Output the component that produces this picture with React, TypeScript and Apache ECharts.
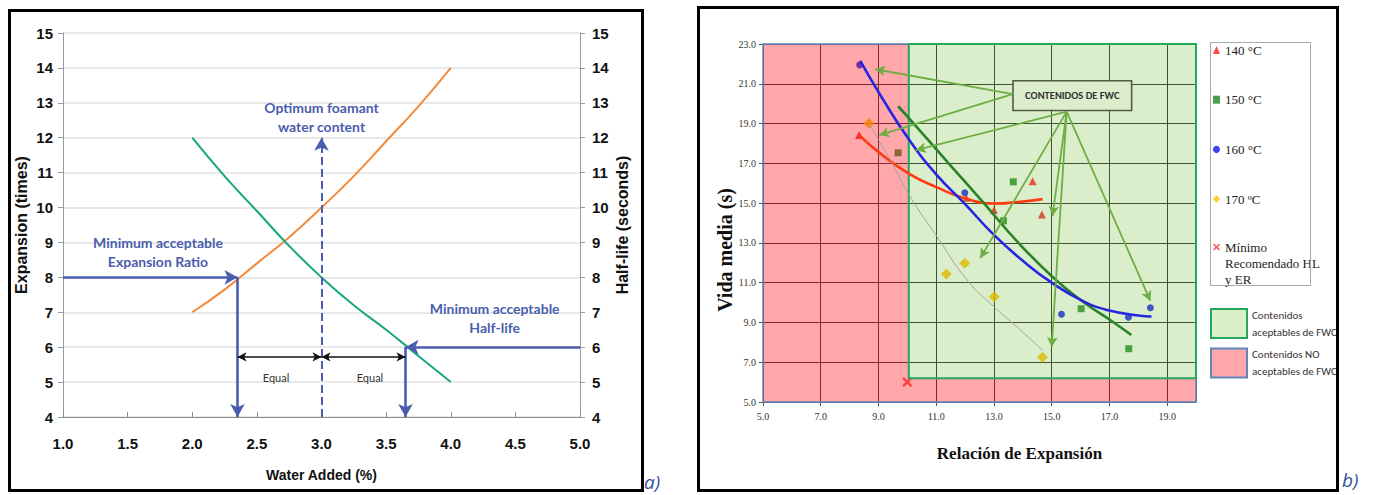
import { useEffect, useRef } from "react";
import * as echarts from "echarts";

// ---------- Panel a): foam expansion and half-life vs. water added ----------
const waterAdded = [2.0, 2.25, 2.5, 2.75, 3.0, 3.25, 3.5, 3.75, 4.0];
const expansionTimes = [7.0, 7.65, 8.4, 9.15, 10.0, 10.9, 11.9, 12.9, 14.0];
const halfLifeSeconds = [12.0, 10.9, 9.9, 8.9, 8.0, 7.2, 6.5, 5.75, 5.0];

const minExpansionRatio = 8;
const minHalfLife = 6;
const waterAtMinExpansion = 2.35;
const waterOptimum = 3.0;
const optimumArrowTop = 12;
const waterAtMinHalfLife = 3.65;
const equalBracketLevel = 5.72;

// ---------- Panel b): half-life vs. expansion ratio by temperature ----------
const pts140: number[][] = [[8.33, 18.42], [12.04, 15.27], [13.0, 14.65], [14.34, 16.1], [14.66, 14.43]];
const pts150: number[][] = [[9.68, 17.53], [13.33, 14.11], [13.67, 16.07], [16.02, 9.69], [17.67, 7.68]];
const pts160: number[][] = [[8.35, 21.95], [11.99, 15.52], [15.34, 9.41], [17.66, 9.26], [18.42, 9.74]];
const pts170: number[][] = [[8.67, 19.0], [11.35, 11.43], [11.99, 11.97], [13.01, 10.29], [14.68, 7.25]];
const minRecommended: number[][] = [[10.0, 6.0]];

const fit140: number[][] = [[8.33, 18.42], [9.06, 17.5], [10.08, 16.46], [11.03, 15.79], [11.99, 15.24], [13.0, 14.98], [13.92, 15.07], [14.68, 15.2]];
const fit150: number[][] = [[9.68, 19.87], [10.22, 19.0], [11.43, 17.0], [12.65, 15.0], [13.85, 13.0], [15.1, 11.2], [16.12, 10.0], [17.1, 9.05], [17.76, 8.37]];
const fit160: number[][] = [[8.37, 22.15], [9.1, 20.35], [10.07, 18.17], [11.0, 16.45], [12.0, 14.95], [13.0, 13.4], [14.0, 12.1], [15.0, 11.0], [16.12, 10.05], [17.0, 9.6], [18.0, 9.35], [18.46, 9.3]];
const fit170: number[][] = [[8.67, 19.0], [9.41, 17.16], [10.1, 15.32], [11.03, 13.31], [12.07, 11.13], [13.0, 9.79], [13.92, 8.62], [14.68, 7.61]];

// acceptable FWC window (expansion >= 10, half-life >= 6.2)
const okMinExpansion = 10.05;
const okMinHalfLife = 6.2;
const plotMaxExpansion = 20;
const plotMaxHalfLife = 23;
const plotMinExpansion = 5;
const plotMinHalfLife = 5;

// callout box and its pointer arrows
const calloutBox = [[13.66, 21.15], [17.77, 19.66]];
const calloutLeft = [13.65, 20.48];
const calloutBottom = [15.52, 19.6];
const calloutTargetsLeft: number[][] = [[8.89, 21.73], [9.03, 18.42]];
const calloutTargetsBottom: number[][] = [[10.3, 17.66], [12.53, 12.24], [15.03, 14.35], [15.0, 7.76], [18.42, 10.08]];

const NAME_140 = "140 °C";
const NAME_150 = "150 °C";
const NAME_160 = "160 °C";
const NAME_170 = "170 ºC";
const NAME_MIN = "Mínimo Recomendado HL y ER";
const NAME_OK = "Contenidos aceptables de FWC";
const NAME_NO = "Contenidos NO aceptables de FWC";

const SANS = "'Liberation Sans', Arial, sans-serif";
const NARROW = "'Liberation Sans Narrow', 'Arial Narrow', Lato, sans-serif";
const HUMAN = "Carlito, Calibri, Lato, sans-serif";
const SERIF = "'Liberation Serif', 'Times New Roman', serif";
const BLUE = "#4A5DAE";
const X_PATH = "path://M0,1.6L1.6,0L5,3.4L8.4,0L10,1.6L6.6,5L10,8.4L8.4,10L5,6.6L1.6,10L0,8.4L3.4,5Z";
// legend glyph: the cross sits at the top of a tall box so it lines up with the first text line
const X_LEGEND_PATH =
  "path://M0,0L0.05,0L0.05,0.05Z M0,2.4L1.6,0.8L5,4.2L8.4,0.8L10,2.4L6.6,5.8L10,9.2L8.4,10.8L5,7.4L1.6,10.8L0,9.2L3.4,5.8Z M9.95,57.1L10,57.1L10,57.15Z";

function pair(a: number[], b: number[], extra: any = {}) {
  return [{ coord: a, ...extra }, { coord: b }];
}

function buildOption(): any {
  const expSeries = waterAdded.map((w, i) => [w, expansionTimes[i]]);
  const hlSeries = waterAdded.map((w, i) => [w, halfLifeSeconds[i]]);

  const leftLabel = { fontFamily: SANS, fontWeight: "bold", fontSize: 15, color: "#111" };
  const rightAxisLabel = { fontFamily: SERIF, fontSize: 10, color: "#333", formatter: (v: number) => v.toFixed(1) };

  return {
    animation: false,
    backgroundColor: "#ffffff",
    grid: [
      { left: 63, top: 33, width: 517, height: 384 },
      { left: 763, top: 44, width: 433, height: 358 },
    ],
    xAxis: [
      {
        gridIndex: 0, type: "value", min: 1, max: 5, interval: 0.5,
        axisLine: { show: true, lineStyle: { color: "#8c8c8c", width: 1 } },
        axisTick: { show: true, inside: true, length: 5, lineStyle: { color: "#8c8c8c" } },
        axisLabel: { ...leftLabel, margin: 19, formatter: (v: number) => v.toFixed(1) },
        splitLine: { show: false },
        name: "Water Added (%)", nameLocation: "middle", nameGap: 51,
        nameTextStyle: { fontFamily: SANS, fontWeight: "bold", fontSize: 14, color: "#111" },
      },
      {
        gridIndex: 1, type: "value", min: plotMinExpansion, max: plotMaxExpansion, interval: 2,
        axisLine: { show: false },
        axisTick: { show: true, length: 4, lineStyle: { color: "#555" } },
        axisLabel: { ...rightAxisLabel, margin: 9, showMaxLabel: false },
        splitLine: { show: true, lineStyle: { color: "rgba(40,40,40,0.9)", width: 1 } },
        name: "Relación de Expansión", nameLocation: "middle", nameGap: 43,
        nameTextStyle: { fontFamily: SERIF, fontWeight: "bold", fontSize: 17, color: "#111", padding: [0, 0, 0, 80] },
      },
    ],
    yAxis: [
      {
        gridIndex: 0, type: "value", position: "left", min: 4, max: 15, interval: 1,
        axisLine: { show: true, lineStyle: { color: "#9a9a9a" } },
        axisTick: { show: true, length: 5, lineStyle: { color: "#9a9a9a" } },
        axisLabel: { ...leftLabel, margin: 10 },
        splitLine: { show: true, lineStyle: { color: "#E2E2E2", width: 1.6 } },
        name: "Expansion (times)", nameLocation: "middle", nameRotate: 90, nameGap: 34,
        nameTextStyle: { fontFamily: SANS, fontWeight: "bold", fontSize: 16, color: "#111" },
      },
      {
        gridIndex: 0, type: "value", position: "right", min: 4, max: 15, interval: 1,
        axisLine: { show: true, lineStyle: { color: "#9a9a9a" } },
        axisTick: { show: true, length: 5, lineStyle: { color: "#9a9a9a" } },
        axisLabel: { ...leftLabel, margin: 12 },
        splitLine: { show: false },
        name: "Half-life (seconds)", nameLocation: "middle", nameRotate: 90, nameGap: 34,
        nameTextStyle: { fontFamily: SANS, fontWeight: "bold", fontSize: 16, color: "#111" },
      },
      {
        gridIndex: 1, type: "value", min: plotMinHalfLife, max: plotMaxHalfLife, interval: 2,
        axisLine: { show: false },
        axisTick: { show: true, length: 4, lineStyle: { color: "#555" } },
        axisLabel: { ...rightAxisLabel, margin: 7 },
        splitLine: { show: true, lineStyle: { color: "rgba(40,40,40,0.9)", width: 1 } },
        name: "Vida media (s)", nameLocation: "middle", nameRotate: 90, nameGap: 24,
        nameTextStyle: { fontFamily: SERIF, fontWeight: "bold", fontSize: 20, color: "#111", padding: [0, 54, 0, 0] },
      },
    ],
    legend: [
      {
        orient: "vertical", left: 1213, top: 42, padding: 0, itemGap: 33.7,
        itemWidth: 7, itemHeight: 8, selectedMode: false,
        textStyle: { fontFamily: SERIF, fontSize: 13, color: "#222", lineHeight: 16 },
        data: [
          { name: NAME_140, icon: "triangle" },
          { name: NAME_150, icon: "rect" },
          { name: NAME_160, icon: "circle" },
          { name: NAME_170, icon: "diamond" },
        ],
      },
      {
        orient: "vertical", left: 1213, top: 239, padding: 0,
        itemWidth: 7, itemHeight: 40, selectedMode: false,
        textStyle: { fontFamily: SERIF, fontSize: 13, color: "#222", lineHeight: 16 },
        formatter: () => "Mínimo\nRecomendado HL\ny ER",
        data: [{ name: NAME_MIN, icon: X_LEGEND_PATH }],
      },
      {
        orient: "vertical", left: 1210, top: 306.5, padding: 0, itemGap: 5.6,
        itemWidth: 36, itemHeight: 29, selectedMode: false,
        textStyle: { fontFamily: HUMAN, fontSize: 11, color: "#333", lineHeight: 17 },
        formatter: (n: string) => (n === NAME_OK ? "Contenidos\naceptables de FWC" : "Contenidos NO\naceptables de FWC"),
        data: [
          { name: NAME_OK, icon: "rect", itemStyle: { color: "#DAEEC7", borderColor: "#22A85A", borderWidth: 2 } },
          { name: NAME_NO, icon: "rect", itemStyle: { color: "#FFA7AB", borderColor: "#5F86BE", borderWidth: 2 } },
        ],
      },
    ],
    graphic: [
      { type: "rect", z: 100, silent: true, shape: { x: 9.5, y: 10.5, width: 633, height: 480 }, style: { fill: "none", stroke: "#000", lineWidth: 3 } },
      { type: "rect", z: 100, silent: true, shape: { x: 698.5, y: 7.5, width: 639, height: 483 }, style: { fill: "none", stroke: "#000", lineWidth: 3 } },
      { type: "rect", z: 100, silent: true, shape: { x: 1210.5, y: 42.5, width: 100, height: 243 }, style: { fill: "none", stroke: "#A9A9A9", lineWidth: 1 } },
      { type: "text", z: 100, silent: true, x: 644, y: 472, style: { text: "a)", font: "italic 19px 'Open Sans', sans-serif", fill: "#2F5597", align: "left", verticalAlign: "top" } },
      { type: "text", z: 100, silent: true, x: 1342, y: 470, style: { text: "b)", font: "italic 19px 'Open Sans', sans-serif", fill: "#2F5597", align: "left", verticalAlign: "top" } },
    ],
    series: [
      // ----- panel a -----
      {
        name: "Expansion (times)", type: "line", xAxisIndex: 0, yAxisIndex: 0, data: expSeries,
        smooth: true, showSymbol: false, symbol: "none", silent: true,
        lineStyle: { color: "#F28A3C", width: 2 },
      },
      {
        name: "Half-life (seconds)", type: "line", xAxisIndex: 0, yAxisIndex: 1, data: hlSeries,
        smooth: true, showSymbol: false, symbol: "none", silent: true,
        lineStyle: { color: "#17A77C", width: 2 },
      },
      {
        name: "guides-a", type: "line", xAxisIndex: 0, yAxisIndex: 0, data: [], silent: true,
        markLine: {
          silent: true, symbol: ["none", "arrow"], symbolSize: [11, 13], label: { show: false },
          lineStyle: { color: BLUE, width: 2.6, type: "solid" },
          emphasis: { disabled: true },
          data: [
            pair([1, minExpansionRatio], [waterAtMinExpansion, minExpansionRatio]),
            pair([waterAtMinExpansion, minExpansionRatio], [waterAtMinExpansion, 4]),
            pair([waterOptimum, 4], [waterOptimum, optimumArrowTop], { lineStyle: { type: "dashed", width: 2, color: BLUE } }),
            pair([5, minHalfLife], [waterAtMinHalfLife, minHalfLife]),
            pair([waterAtMinHalfLife, minHalfLife], [waterAtMinHalfLife, 4]),
            [
              { coord: [waterAtMinExpansion, equalBracketLevel], symbol: "arrow", symbolSize: [7, 9], lineStyle: { color: "#111", width: 1.6, type: "solid" } },
              { coord: [waterOptimum, equalBracketLevel], symbol: "arrow", symbolSize: [7, 9] },
            ],
            [
              { coord: [waterOptimum, equalBracketLevel], symbol: "arrow", symbolSize: [7, 9], lineStyle: { color: "#111", width: 1.6, type: "solid" } },
              { coord: [waterAtMinHalfLife, equalBracketLevel], symbol: "arrow", symbolSize: [7, 9] },
            ],
          ],
        },
        markPoint: {
          silent: true, symbol: "circle", symbolSize: 0,
          label: { show: true, position: "inside", color: BLUE, fontFamily: NARROW, fontWeight: "bold", fontSize: 14, lineHeight: 19 },
          data: [
            { coord: [1.735, 8.73], label: { formatter: "Minimum acceptable\nExpansion Ratio" } },
            { coord: [waterOptimum, 12.59], label: { formatter: "Optimum foamant\nwater content" } },
            { coord: [4.34, 6.84], label: { formatter: "Minimum acceptable\nHalf-life" } },
            { coord: [2.648, 5.12], label: { formatter: "Equal", color: "#333", fontWeight: "normal", fontSize: 11 } },
            { coord: [3.375, 5.12], label: { formatter: "Equal", color: "#333", fontWeight: "normal", fontSize: 11 } },
          ],
        },
      },

      // ----- panel b: measured points -----
      { name: NAME_140, type: "scatter", xAxisIndex: 1, yAxisIndex: 2, data: pts140, symbol: "triangle", symbolSize: 8, itemStyle: { color: "#FF1A1A" }, silent: true },
      { name: NAME_150, type: "scatter", xAxisIndex: 1, yAxisIndex: 2, data: pts150, symbol: "rect", symbolSize: 7, itemStyle: { color: "#1E8A1E" }, silent: true },
      { name: NAME_160, type: "scatter", xAxisIndex: 1, yAxisIndex: 2, data: pts160, symbol: "circle", symbolSize: 7, itemStyle: { color: "#1010F0" }, silent: true },
      { name: NAME_170, type: "scatter", xAxisIndex: 1, yAxisIndex: 2, data: pts170, symbol: "diamond", symbolSize: 11, itemStyle: { color: "#FFC000" }, silent: true },
      { name: NAME_MIN, type: "scatter", xAxisIndex: 1, yAxisIndex: 2, data: minRecommended, symbol: X_PATH, symbolSize: 10, itemStyle: { color: "#FF2E2E" }, silent: true },

      // ----- panel b: trend curves -----
      { name: "fit-140", type: "line", xAxisIndex: 1, yAxisIndex: 2, data: fit140, smooth: true, showSymbol: false, symbol: "none", silent: true, lineStyle: { color: "#FF3A10", width: 2.6 } },
      { name: "fit-150", type: "line", xAxisIndex: 1, yAxisIndex: 2, data: fit150, smooth: true, showSymbol: false, symbol: "none", silent: true, lineStyle: { color: "#288329", width: 2.6 } },
      { name: "fit-160", type: "line", xAxisIndex: 1, yAxisIndex: 2, data: fit160, smooth: true, showSymbol: false, symbol: "none", silent: true, lineStyle: { color: "#2626E0", width: 2.6 } },
      { name: "fit-170", type: "line", xAxisIndex: 1, yAxisIndex: 2, data: fit170, smooth: true, showSymbol: false, symbol: "none", silent: true, lineStyle: { color: "#A4A4A4", width: 1 } },

      // ----- panel b: translucent acceptance regions drawn over the plot -----
      {
        name: NAME_NO, type: "line", xAxisIndex: 1, yAxisIndex: 2, data: [], silent: true,
        itemStyle: { color: "#FFA7AB" }, lineStyle: { color: "#FFA7AB" },
        markArea: {
          z: 3, silent: true, emphasis: { disabled: true },
          itemStyle: { color: "rgba(255,0,12,0.345)" },
          data: [
            pair([plotMinExpansion, plotMinHalfLife], [okMinExpansion, plotMaxHalfLife]),
            pair([okMinExpansion, plotMinHalfLife], [plotMaxExpansion, okMinHalfLife]),
            pair([plotMinExpansion, plotMinHalfLife], [plotMaxExpansion, plotMaxHalfLife], {
              itemStyle: { color: "rgba(0,0,0,0)", borderColor: "#5F86BE", borderWidth: 1.5 },
            }),
          ],
        },
      },
      {
        name: NAME_OK, type: "line", xAxisIndex: 1, yAxisIndex: 2, data: [], silent: true,
        itemStyle: { color: "#DAEEC7" }, lineStyle: { color: "#DAEEC7" },
        markArea: {
          z: 3, silent: true, emphasis: { disabled: true },
          itemStyle: { color: "rgba(70,170,0,0.2)", borderColor: "#22A85A", borderWidth: 2 },
          data: [pair([okMinExpansion, okMinHalfLife], [plotMaxExpansion, plotMaxHalfLife])],
        },
      },

      // ----- panel b: callout -----
      {
        name: "callout", type: "line", xAxisIndex: 1, yAxisIndex: 2, data: [], silent: true,
        markArea: {
          z: 4, silent: true, emphasis: { disabled: true },
          itemStyle: { color: "#DCEDCB", borderColor: "#4F5B42", borderWidth: 1.6 },
          label: { show: true, position: "inside", formatter: "CONTENIDOS DE FWC", fontFamily: HUMAN, fontWeight: "bold", fontSize: 10.5, color: "#333" },
          data: [pair(calloutBox[0], calloutBox[1])],
        },
        markLine: {
          z: 5, silent: true, symbol: ["none", "arrow"], symbolSize: [8, 10], label: { show: false },
          emphasis: { disabled: true },
          lineStyle: { color: "#6FAE45", width: 1.8, type: "solid" },
          data: [
            ...calloutTargetsLeft.map((t) => pair(calloutLeft, t)),
            ...calloutTargetsBottom.map((t) => pair(calloutBottom, t)),
          ],
        },
      },
    ],
  };
}

export default function App() {
  const ref = useRef<HTMLDivElement>(null);
  useEffect(() => {
    if (!ref.current) return;
    const chart = echarts.init(ref.current, null, { renderer: "svg" });
    chart.setOption(buildOption());
    return () => chart.dispose();
  }, []);
  return (
    <div
      ref={ref}
      style={{ position: "absolute", left: 0, top: 0, width: 1373, height: 495, background: "#fff" }}
    />
  );
}
